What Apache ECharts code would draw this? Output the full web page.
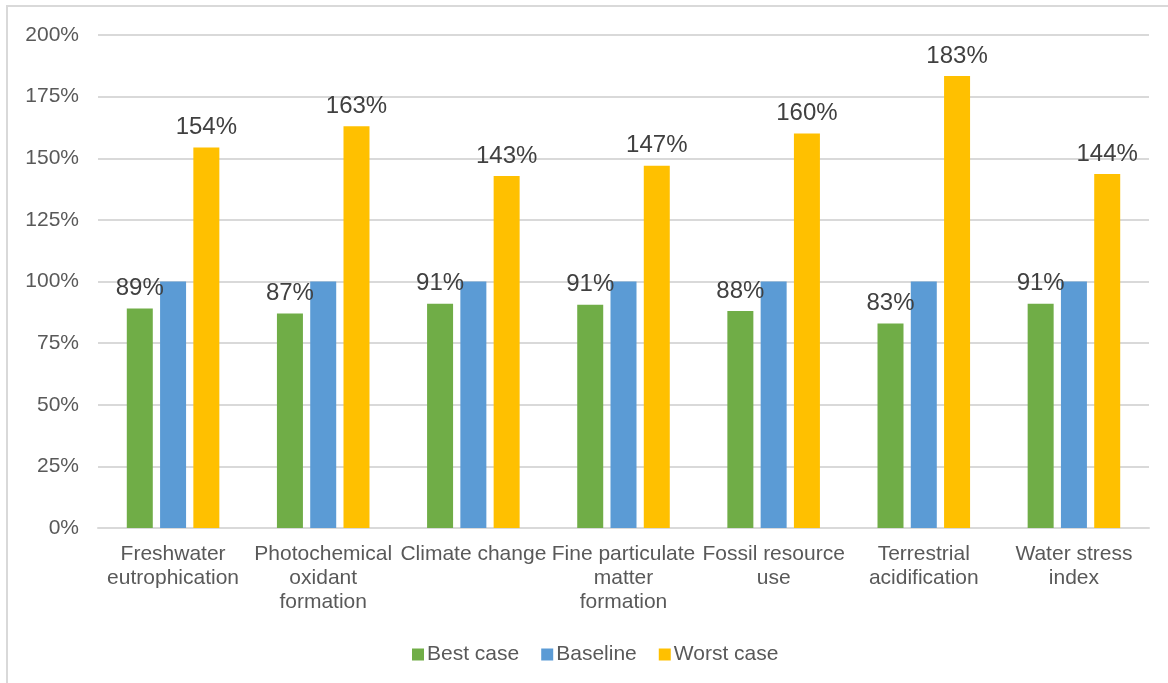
<!DOCTYPE html>
<html>
<head>
<meta charset="utf-8">
<script src="https://cdn.jsdelivr.net/npm/echarts@6/dist/echarts.min.js"></script>
<style>
  html, body { margin: 0; padding: 0; background: #fff; }
  #chart { width: 1168px; height: 683px; }
</style>
</head>
<body>
<div id="chart"></div>
<script>
const categories = [
  'Freshwater\neutrophication',
  'Photochemical\noxidant\nformation',
  'Climate change',
  'Fine particulate\nmatter\nformation',
  'Fossil resource\nuse',
  'Terrestrial\nacidification',
  'Water stress\nindex'
]
const bestCase = [89, 87, 91, 90.6, 88, 83, 91]
const baseline = [100, 100, 100, 100, 100, 100, 100]
const worstCase = [154.4, 163, 142.8, 147, 160, 183.4, 143.6]

const font = 'Liberation Sans, Arial, sans-serif'

const dataLabel = {
  show: true,
  position: 'top',
  distance: 8,
  fontSize: 24,
  fontFamily: font,
  color: '#404040',
  formatter: p => Math.round(p.value) + '%'
}

const myChart = echarts.init(document.getElementById('chart'))
myChart.setOption({
  animation: false,
  textStyle: { fontFamily: font },
  graphic: [{
    type: 'rect',
    shape: { x: 7, y: 6, width: 1170, height: 690 },
    style: { fill: 'none', stroke: '#d9d9d9', lineWidth: 2 },
    silent: true
  }],
  grid: { left: 98, right: 19, top: 35, bottom: 155 },
  legend: {
    left: 407,
    top: 639,
    itemWidth: 12,
    itemHeight: 12,
    itemGap: 22,
    icon: 'rect',
    textStyle: { fontSize: 21, color: '#595959', fontFamily: font, padding: [0, 0, 0, -2] },
    data: ['Best case', 'Baseline', 'Worst case']
  },
  xAxis: {
    type: 'category',
    data: categories,
    axisTick: { show: false },
    axisLine: { lineStyle: { color: '#d9d9d9', width: 2 } },
    axisLabel: {
      interval: 0,
      margin: 14,
      fontSize: 21,
      lineHeight: 24,
      color: '#595959',
      fontFamily: font
    }
  },
  yAxis: {
    type: 'value',
    min: 0,
    max: 200,
    interval: 25,
    axisLine: { show: false },
    axisTick: { show: false },
    splitLine: { lineStyle: { color: '#d9d9d9', width: 2 } },
    axisLabel: {
      margin: 19,
      fontSize: 21,
      color: '#595959',
      fontFamily: font,
      formatter: v => v + '%'
    }
  },
  series: [
    {
      name: 'Best case',
      type: 'bar',
      data: bestCase,
      barWidth: 26,
      barGap: '28%',
      itemStyle: { color: '#70ad47' },
      label: dataLabel
    },
    {
      name: 'Baseline',
      type: 'bar',
      data: baseline,
      barWidth: 26,
      barGap: '28%',
      itemStyle: { color: '#5b9bd5' }
    },
    {
      name: 'Worst case',
      type: 'bar',
      data: worstCase,
      barWidth: 26,
      barGap: '28%',
      itemStyle: { color: '#ffc000' },
      label: dataLabel
    }
  ]
})
</script>
</body>
</html>
